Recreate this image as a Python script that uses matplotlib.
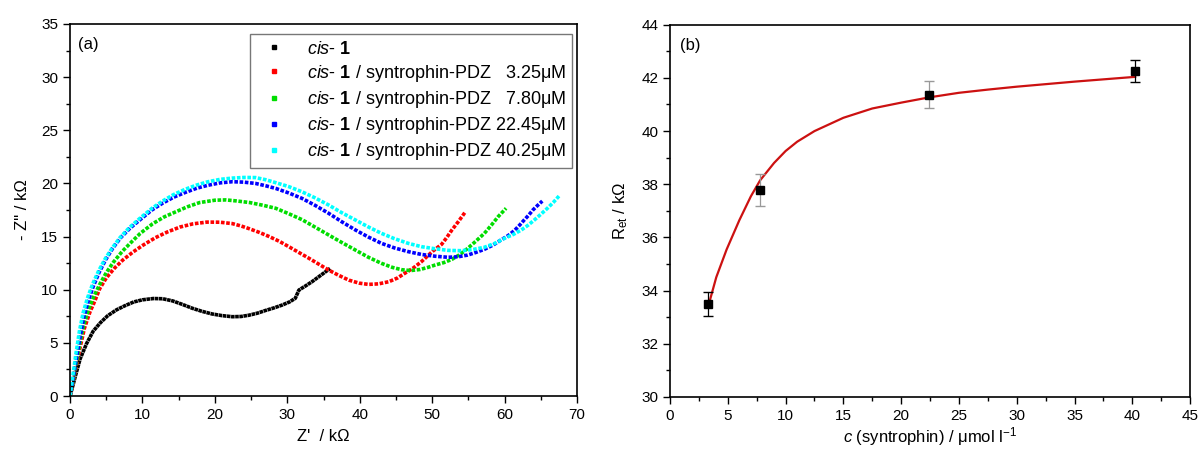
import numpy as np
import matplotlib.pyplot as plt
from matplotlib.ticker import MultipleLocator

plt.rcParams['font.family'] = ['Liberation Sans', 'DejaVu Sans']
plt.rcParams['mathtext.fontset'] = 'custom'
plt.rcParams['mathtext.rm'] = 'Liberation Sans'
plt.rcParams['mathtext.it'] = 'Liberation Sans:italic'
plt.rcParams['mathtext.bf'] = 'Liberation Sans:bold'

# (a) Nyquist plots, Z' / -Z'' in kOhm
black_x = [0, 0.4, 0.75, 1.4, 2.3, 3.2, 4.2, 5.2, 6.4, 7.6, 8.8, 10.0, 11.5, 12.8, 14.2, 15.5, 16.9, 18.2, 19.6, 21.0,
           22.4, 23.6, 24.7, 25.9, 27.0, 28.2, 29.3, 30.3, 31.1, 31.6, 32.5, 33.4, 34.6, 35.9]
black_y = [0, 1.0, 1.9, 3.5, 4.95, 6.1, 6.9, 7.55, 8.1, 8.5, 8.85, 9.05, 9.17, 9.15, 8.94, 8.62, 8.25, 7.97, 7.72, 7.56,
           7.46, 7.48, 7.6, 7.8, 8.05, 8.3, 8.56, 8.85, 9.19, 9.97, 10.35, 10.75, 11.35, 12.0]

red_x = [0, 0.4, 0.85, 1.4, 2.0, 2.75, 3.4, 4.1, 5.0, 6.1, 7.3, 8.7, 10.1, 11.8, 13.5, 15.2, 17.0, 18.9, 20.7, 22.4,
         23.6, 24.7, 26.1, 27.5, 28.9, 30.2, 31.6, 33.0, 34.4, 35.7, 37.1, 38.5, 39.9, 41.2, 42.6, 44.0, 45.2, 46.2,
         47.4, 48.5, 49.4, 50.1, 51.3, 52.0, 52.7, 53.6, 54.5]
red_y = [0, 1.2, 2.8, 4.6, 6.4, 7.9, 8.9, 10.1, 11.1, 12.0, 12.8, 13.55, 14.2, 14.9, 15.45, 15.9, 16.2, 16.36, 16.35, 16.22,
         16.0, 15.75, 15.4, 15.0, 14.55, 14.05, 13.5, 12.95, 12.38, 11.85, 11.35, 10.9, 10.62, 10.5, 10.55, 10.75, 11.1, 11.54,
         12.05, 12.63, 13.2, 13.64, 14.27, 14.9, 15.6, 16.4, 17.25]

green_x = [0, 0.4, 0.9, 1.4, 1.9, 2.6, 3.3, 4.1, 5.0, 6.0, 7.2, 8.5, 9.7, 11.4, 13.0, 14.5, 16.2, 17.9, 20.0, 21.5,
           23.0, 24.8, 26.6, 28.4, 30.2, 32.0, 33.8, 35.7, 37.5, 39.4, 41.2, 43.0, 44.5, 45.8, 47.0, 48.3, 49.4, 50.4,
           51.6, 52.7, 53.8, 54.9, 56.0, 57.2, 58.2, 59.1, 60.2]
green_y = [0, 1.3, 3.2, 5.1, 6.7, 8.2, 9.4, 10.5, 11.6, 12.6, 13.6, 14.5, 15.3, 16.2, 16.85, 17.3, 17.8, 18.2, 18.42, 18.45,
           18.35, 18.2, 17.95, 17.66, 17.15, 16.6, 15.9, 15.15, 14.45, 13.73, 13.05, 12.48, 12.1, 11.88, 11.8, 11.9, 12.1, 12.32,
           12.55, 12.85, 13.3, 13.89, 14.55, 15.3, 16.1, 16.87, 17.66]

blue_x = [0, 0.4, 0.9, 1.4, 1.9, 2.5, 3.2, 4.0, 4.9, 5.9, 7.0, 8.3, 9.7, 11.3, 12.8, 14.3, 15.9, 17.5, 19.0, 20.7,
          22.4, 24.0, 25.6, 27.0, 28.4, 30.2, 32.0, 33.8, 35.7, 37.5, 39.4, 41.2, 43.0, 44.8, 46.7, 48.5, 50.4, 52.2,
          53.6, 54.9, 56.0, 57.2, 58.4, 59.5, 60.5, 61.4, 62.1, 62.7, 63.3, 63.9, 64.5, 65.2]
blue_y = [0, 1.5, 3.6, 5.6, 7.4, 8.9, 10.3, 11.6, 12.8, 13.9, 14.9, 15.8, 16.6, 17.5, 18.15, 18.7, 19.15, 19.55, 19.82, 20.05,
          20.16, 20.12, 20.0, 19.78, 19.53, 19.1, 18.6, 17.95, 17.19, 16.4, 15.62, 14.95, 14.36, 13.93, 13.58, 13.32, 13.15, 13.05,
          13.1, 13.26, 13.5, 13.8, 14.2, 14.68, 15.1, 15.6, 16.1, 16.56, 17.0, 17.5, 17.9, 18.34]

cyan_x = [0, 0.35, 0.8, 1.3, 1.8, 2.4, 3.1, 3.9, 4.8, 5.8, 6.9, 8.2, 9.7, 11.4, 12.8, 14.3, 15.9, 17.5, 19.0, 20.7,
          22.4, 24.0, 25.6, 27.0, 28.4, 30.2, 32.0, 33.8, 35.7, 37.5, 39.4, 41.2, 43.0, 44.8, 46.7, 48.5, 50.4, 52.2,
          54.0, 55.6, 57.2, 58.6, 60.0, 61.2, 62.3, 63.2, 64.1, 65.0, 65.9, 66.7, 67.5]
cyan_y = [0, 1.7, 3.9, 6.1, 7.8, 9.2, 10.5, 11.7, 12.85, 13.9, 14.9, 15.85, 16.75, 17.7, 18.35, 18.95, 19.45, 19.85, 20.15, 20.38,
          20.5, 20.56, 20.55, 20.35, 20.07, 19.7, 19.22, 18.65, 17.97, 17.25, 16.56, 15.9, 15.3, 14.8, 14.36, 14.05, 13.85, 13.7,
          13.67, 13.78, 13.99, 14.35, 14.84, 15.2, 15.62, 16.05, 16.56, 17.1, 17.66, 18.2, 18.81]

labels = [r'$\it{cis}$- $\bf{1}$',
          r'$\it{cis}$- $\bf{1}$ / syntrophin-PDZ   3.25μM',
          r'$\it{cis}$- $\bf{1}$ / syntrophin-PDZ   7.80μM',
          r'$\it{cis}$- $\bf{1}$ / syntrophin-PDZ 22.45μM',
          r'$\it{cis}$- $\bf{1}$ / syntrophin-PDZ 40.25μM']

# (b) charge transfer resistance vs concentration
conc = [3.25, 7.8, 22.45, 40.25]
ret = [33.5, 37.78, 41.37, 42.25]
ret_err = [0.45, 0.6, 0.5, 0.42]
fit_x = [3.3, 4, 4.9, 6, 7, 7.8, 9, 10, 11, 12.5, 15, 17.5, 20, 22.45, 25, 27.5, 30, 35, 40.25]
fit_y = [33.4, 34.5, 35.55, 36.65, 37.55, 38.15, 38.8, 39.25, 39.6, 40.0, 40.5, 40.85, 41.07, 41.27, 41.44, 41.56, 41.67, 41.86, 42.04]

fig = plt.figure(figsize=(12.01, 4.5), dpi=100)
ax1 = fig.add_axes([0.0583, 0.12, 0.4222, 0.8267])
ax2 = fig.add_axes([0.5579, 0.118, 0.433, 0.827])

series = [(black_x, black_y, 'black'), (red_x, red_y, 'red'), (green_x, green_y, '#00dd00'),
          (blue_x, blue_y, 'blue'), (cyan_x, cyan_y, 'cyan')]
for (x, y, c), lab in zip(series, labels):
    gap = 0.15 if c == 'black' else 0.45
    ax1.plot(x, y, color=c, lw=2.6, ls=(0, (1, gap)), dash_capstyle='butt')
    ax1.plot([], [], 's', color=c, ms=2.5, label=lab)

ax1.set_xlim(0, 70)
ax1.set_ylim(0, 35)
ax1.xaxis.set_major_locator(MultipleLocator(10))
ax1.xaxis.set_minor_locator(MultipleLocator(5))
ax1.yaxis.set_major_locator(MultipleLocator(5))
ax1.yaxis.set_minor_locator(MultipleLocator(2.5))
ax1.set_xlabel("Z'  / kΩ", fontsize=12, labelpad=5)
ax1.set_ylabel('- Z" / kΩ', fontsize=12, labelpad=8)
ax1.text(0.016, 0.965, '(a)', transform=ax1.transAxes, fontsize=12, va='top')
leg = ax1.legend(loc='upper right', bbox_to_anchor=(0.99, 0.972), fontsize=13,
                 frameon=True, fancybox=False, edgecolor='#555555', handlelength=2.0,
                 handletextpad=0.8, borderpad=0.35, labelspacing=0.28, borderaxespad=0)
leg.get_frame().set_linewidth(1.0)

ax2.plot(fit_x, fit_y, color='#cc1111', lw=1.6, zorder=2)
err_colors = ['black', '#999999', '#999999', 'black']
for xi, yi, ei, ec in zip(conc, ret, ret_err, err_colors):
    ax2.errorbar([xi], [yi], yerr=[ei], fmt='none', ecolor=ec, elinewidth=0.9, capsize=3.5, zorder=3)
ax2.plot(conc, ret, 's', color='black', ms=6, zorder=4)
ax2.set_xlim(0, 45)
ax2.set_ylim(30, 44)
ax2.xaxis.set_major_locator(MultipleLocator(5))
ax2.xaxis.set_minor_locator(MultipleLocator(2.5))
ax2.yaxis.set_major_locator(MultipleLocator(2))
ax2.yaxis.set_minor_locator(MultipleLocator(1))
ax2.set_xlabel(r'$\it{c}$ (syntrophin) / μmol l$^{-1}$', fontsize=12, labelpad=2)
ax2.set_ylabel(r'R$_{\rm et}$ / kΩ', fontsize=12, labelpad=8)
ax2.text(0.02, 0.965, '(b)', transform=ax2.transAxes, fontsize=12, va='top')

for ax in (ax1, ax2):
    ax.tick_params(which='both', direction='out', top=False, right=False, labelsize=11, width=1.0)
    ax.tick_params(which='major', length=5)
    ax.tick_params(which='minor', length=3)
    for s in ax.spines.values():
        s.set_linewidth(1.2)

fig.savefig('out.png', dpi=100)
